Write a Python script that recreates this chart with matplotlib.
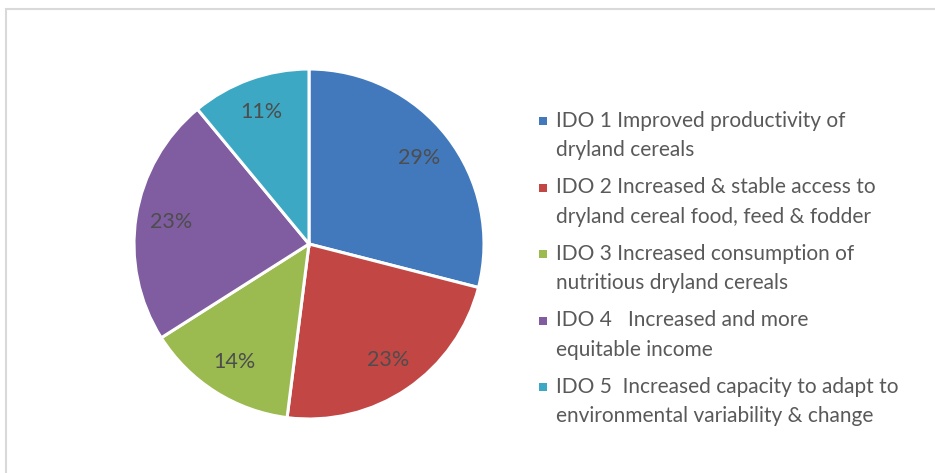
import matplotlib
matplotlib.use("Agg")
import matplotlib.pyplot as plt
from matplotlib.patches import Rectangle

# ---- data ----
categories = [
    ["IDO 1 Improved productivity of", "dryland cereals"],
    ["IDO 2 Increased & stable access to", "dryland cereal food, feed & fodder"],
    ["IDO 3 Increased consumption of", "nutritious dryland cereals"],
    ["IDO 4   Increased and more", "equitable income"],
    ["IDO 5  Increased capacity to adapt to", "environmental variability & change"],
]
values = [29, 23, 14, 23, 11]
colors = ["#4279BD", "#C24644", "#9BBB51", "#7F5DA0", "#3DA8C4"]

W, H, DPI = 935, 473, 100
plt.rcParams['font.family'] = ['Lato', 'DejaVu Sans']
FS = 15
TXT = "#595959"

fig = plt.figure(figsize=(W / DPI, H / DPI), dpi=DPI)
fig.patch.set_facecolor("white")

# chart area frame (cropped at right/bottom)
fig.patches.append(Rectangle((6 / W, -0.1), 1.2, (H - 9) / H + 0.1,
                             transform=fig.transFigure, fill=False,
                             edgecolor="#D9D9D9", linewidth=1.5))

# pie axes: centre (309, 244) px from top, radius 175 px
cx, cy, r = 309, 244, 175
ax = fig.add_axes([(cx - r) / W, (H - cy - r) / H, 2 * r / W, 2 * r / H])
wedges, texts, autotexts = ax.pie(
    values, colors=colors, startangle=90, counterclock=False,
    autopct=lambda p: f"{p:.0f}%", pctdistance=0.8,
    wedgeprops=dict(edgecolor="white", linewidth=2.2),
    textprops=dict(color="#4D4D4D", fontsize=15.5))
ax.set_xlim(-1, 1)
ax.set_ylim(-1, 1)
ax.set_aspect("equal")
ax.axis("off")

# legend (manual, marker aligned with first line)
base0 = 126.7
step = 66.5
line_gap = 29.5
for i, (lines, c) in enumerate(zip(categories, colors)):
    b = base0 + i * step
    fig.patches.append(Rectangle((539 / W, 1 - (b - 1.5) / H), 8 / W, 8 / H,
                                 transform=fig.transFigure, facecolor=c,
                                 edgecolor="none"))
    for j, ln in enumerate(lines):
        fig.text(556 / W, 1 - (b + j * line_gap) / H, ln, color=TXT,
                 fontsize=FS, va="baseline", ha="left")

fig.savefig("out.png", dpi=DPI)
